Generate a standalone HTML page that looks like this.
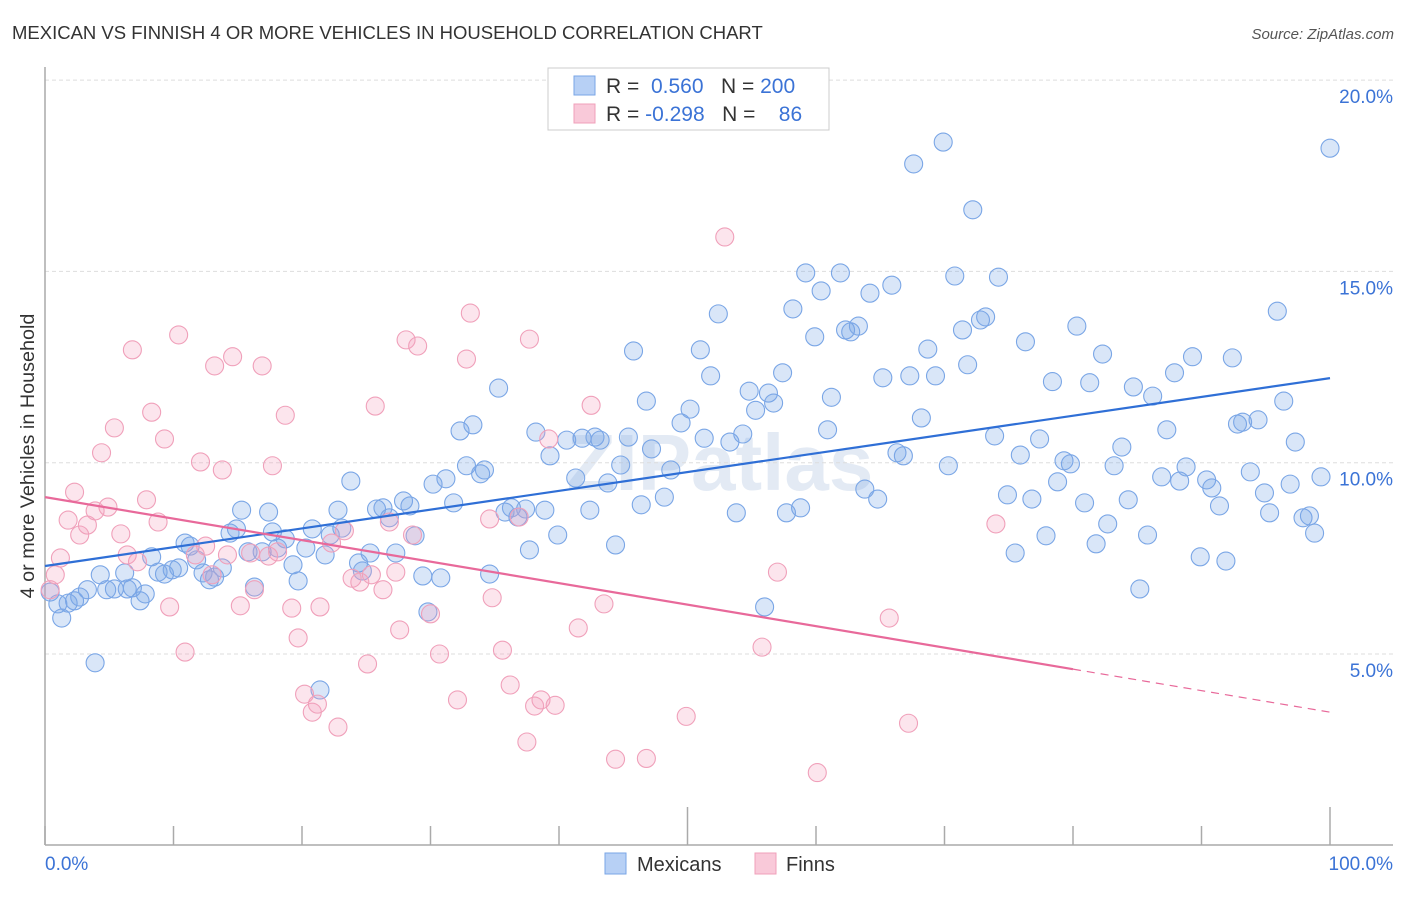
<!DOCTYPE html>
<html><head><meta charset="utf-8"><style>
body{margin:0;background:#fff;font-family:"Liberation Sans",sans-serif}
svg text{font-family:"Liberation Sans",sans-serif}
</style></head><body>
<svg id="chart" width="1406" height="892" xmlns="http://www.w3.org/2000/svg">
<text x="12" y="39" font-size="18.5" fill="#333">MEXICAN VS FINNISH 4 OR MORE VEHICLES IN HOUSEHOLD CORRELATION CHART</text>
<text x="1394" y="39" font-size="15" fill="#555" text-anchor="end" font-style="italic">Source: ZipAtlas.com</text>
<text x="720" y="490" font-size="80" fill="#dde6f2" text-anchor="middle" font-weight="bold" opacity="0.8">ZIPatlas</text>
<g id="grid"></g>
<g id="axes"></g>
<g id="pts"></g>
<g id="lines"></g>
<text transform="translate(34,456) rotate(-90)" font-size="19.8" fill="#333" text-anchor="middle">4 or more Vehicles in Household</text>
<g>
<rect x="548" y="68" width="281" height="62" fill="#fff" stroke="#ccc"/>
<rect x="574" y="76" width="21" height="19" fill="#b7d0f5" stroke="#7aa6e6"/>
<rect x="574" y="104" width="21" height="19" fill="#f9c9d9" stroke="#f0a0ba"/>
<text x="606" y="93" font-size="21" fill="#333">R = <tspan fill="#3b73d6">&#160;0.560</tspan>&#160;&#160; N = <tspan fill="#3b73d6">200</tspan></text>
<text x="606" y="121" font-size="21" fill="#333">R = <tspan fill="#3b73d6">-0.298</tspan>&#160;&#160; N = <tspan fill="#3b73d6">&#160;&#160;&#160;86</tspan></text>
</g>
<g>
<rect x="605" y="853" width="21" height="21" fill="#b7d0f5" stroke="#7aa6e6"/>
<text x="637" y="871" font-size="20" fill="#333">Mexicans</text>
<rect x="755" y="853" width="21" height="21" fill="#f9c9d9" stroke="#f0a0ba"/>
<text x="786" y="871" font-size="20" fill="#333">Finns</text>
</g>
</svg>
<script>
const blueX=[0.4,1.0,1.3,1.8,2.3,2.7,3.3,3.9,4.3,4.8,5.4,6.2,6.4,6.8,7.4,7.8,8.3,8.8,9.3,9.9,10.4,10.9,11.3,11.8,12.3,12.8,13.2,13.8,14.4,14.9,15.3,15.8,16.3,16.9,17.4,17.7,18.1,18.7,19.3,19.7,20.3,20.8,21.4,21.8,22.2,22.8,23.1,23.8,24.4,24.7,25.3,25.8,26.3,26.8,27.3,27.9,28.4,28.8,29.4,29.8,30.2,30.8,31.2,31.8,32.3,32.8,33.3,33.9,34.2,34.6,35.3,35.8,36.3,36.8,37.4,37.7,38.2,38.9,39.3,39.9,40.6,41.3,41.8,42.4,42.8,43.2,43.8,44.4,44.8,45.4,45.8,46.4,46.8,47.2,48.2,48.7,49.5,50.2,51.0,51.3,51.8,52.4,53.3,53.8,54.3,54.8,55.3,56.0,56.3,56.7,57.4,57.7,58.2,58.8,59.2,59.9,60.4,60.9,61.2,61.9,62.3,62.7,63.3,63.8,64.2,64.8,65.2,65.9,66.3,66.8,67.3,67.6,68.2,68.7,69.3,69.9,70.3,70.8,71.4,71.8,72.2,72.8,73.2,73.9,74.2,74.9,75.5,75.9,76.3,76.8,77.4,77.9,78.4,78.8,79.3,79.8,80.3,80.9,81.3,81.8,82.3,82.7,83.2,83.8,84.3,84.7,85.2,85.8,86.2,86.9,87.3,87.9,88.3,88.8,89.3,89.9,90.4,90.8,91.4,91.9,92.4,92.8,93.2,93.8,94.4,94.9,95.3,95.9,96.4,96.9,97.3,97.9,98.4,98.8,99.3,100];
const blueY=[6.62,6.31,5.94,6.33,6.39,6.49,6.68,4.77,7.07,6.68,6.70,7.12,6.70,6.73,6.39,6.57,7.54,7.14,7.09,7.20,7.25,7.90,7.82,7.46,7.12,6.94,7.01,7.25,8.16,8.27,8.76,7.67,6.75,7.67,8.71,8.19,7.77,8.01,7.33,6.91,7.77,8.27,4.06,7.59,8.11,8.76,8.29,9.52,7.38,7.17,7.64,8.79,8.82,8.56,7.64,9.00,8.87,8.09,7.04,6.10,9.44,6.99,9.58,8.95,10.83,9.92,10.99,9.71,9.81,7.09,11.95,8.71,8.82,8.58,8.79,7.72,10.80,8.76,10.18,8.11,10.59,9.60,10.64,8.76,10.67,10.59,9.47,7.85,9.94,10.67,12.92,8.90,11.61,10.36,9.10,9.81,11.04,11.40,12.95,10.64,12.27,13.89,10.54,8.69,10.75,11.87,11.37,6.23,11.82,11.56,12.35,8.69,14.02,8.82,14.96,13.29,14.49,10.86,11.71,14.96,13.47,13.42,13.57,9.31,14.43,9.05,12.22,14.64,10.26,10.18,12.27,17.81,11.17,12.97,12.27,18.38,9.92,14.88,13.47,12.56,16.61,13.73,13.81,10.70,14.85,9.16,7.64,10.20,13.16,9.05,10.62,8.09,12.12,9.50,10.05,9.97,13.57,8.95,12.09,7.88,12.84,8.40,9.92,10.41,9.03,11.98,6.70,8.11,11.74,9.63,10.86,12.35,9.52,9.89,12.77,7.54,9.55,9.34,8.87,7.43,12.74,11.01,11.06,9.76,11.12,9.21,8.69,13.96,11.61,9.44,10.54,8.56,8.61,8.16,9.63,18.22];
const pinkX=[0.4,0.8,1.2,1.8,2.3,2.7,3.3,3.9,4.4,4.9,5.4,5.9,6.4,6.8,7.2,7.9,8.3,8.8,9.3,9.7,10.4,10.9,11.7,12.1,12.5,13.0,13.2,13.8,14.2,14.6,15.2,16.0,16.3,16.9,17.4,17.7,18.1,18.7,19.2,19.7,20.2,20.8,21.2,21.4,22.3,22.8,23.3,23.9,24.5,25.1,25.4,25.7,26.3,26.8,27.3,27.6,28.1,28.6,29.0,30.0,30.7,32.1,32.8,33.1,34.6,34.8,35.6,36.2,36.9,37.5,37.7,38.1,38.6,39.2,39.7,41.5,42.5,43.5,44.4,46.8,49.9,52.9,55.8,57.0,60.1,65.7,67.2,74.0];
const pinkY=[6.68,7.07,7.51,8.50,9.23,8.11,8.37,8.74,10.26,8.84,10.91,8.14,7.59,12.95,7.41,9.03,11.32,8.45,10.62,6.23,13.34,5.05,7.59,10.02,7.82,7.07,12.53,9.81,7.59,12.77,6.26,7.64,6.68,12.53,7.56,9.92,7.67,11.24,6.20,5.42,3.95,3.48,3.69,6.23,7.90,3.09,8.22,6.98,6.88,4.74,7.07,11.48,6.68,8.45,7.14,5.63,13.21,8.11,13.05,6.05,5.00,3.80,12.71,13.91,8.53,6.47,5.10,4.19,8.58,2.70,13.23,3.64,3.80,10.62,3.66,5.68,11.50,6.31,2.25,2.27,3.37,15.90,5.18,7.14,1.90,5.94,3.19,8.40];
const yTicks=[5,10,15,20];
const yTickLabels=["5.0%","10.0%","15.0%","20.0%"];
const xTicks=[0,10,20,30,40,50,60,70,80,90,100];
const blueTrend=[7.30,12.21];
const pinkTrend=[9.10,3.48];
const pinkSolidEnd=80;

const NS="http://www.w3.org/2000/svg";
const X0=45,X1=1330,Y0=845.3,YS=38.26;
const sx=v=>X0+(X1-X0)*v/100;
const sy=v=>Y0-v*YS;
function mk(tag,attrs,parent){const e=document.createElementNS(NS,tag);for(const k in attrs)e.setAttribute(k,attrs[k]);parent.appendChild(e);return e;}
const grid=document.getElementById('grid'),axes=document.getElementById('axes'),pts=document.getElementById('pts'),lines=document.getElementById('lines');
yTicks.forEach((t,i)=>{
  const l=mk('line',{x1:X0,x2:1393,y1:sy(t),y2:sy(t),stroke:'#ddd','stroke-dasharray':'4,3'},grid);
  
  
  const tx=mk('text',{x:1393,y:sy(t)+23,'font-size':19,fill:'#3b73d6','text-anchor':'end'},grid);
  tx.textContent=yTickLabels[i];
  
  
});
const ya=mk('line',{x1:X0,x2:X0,y1:67,y2:845,stroke:'#aaa','stroke-width':1.5},axes);


const xa=mk('line',{x1:X0,x2:1393,y1:845,y2:845,stroke:'#aaa','stroke-width':1.5},axes);


xTicks.forEach(t=>{
  const tl=mk('line',{x1:sx(t),x2:sx(t),y1:(t===100||t===50)?807:826,y2:845,stroke:'#aaa','stroke-width':1.5},axes);
  
  
});
const xl0=mk('text',{x:45,y:870,'font-size':19,fill:'#3b73d6'},axes);xl0.textContent='0.0%';


const xl1=mk('text',{x:1393,y:870,'font-size':19,fill:'#3b73d6','text-anchor':'end'},axes);xl1.textContent='100.0%';


blueX.forEach((v,i)=>{
  const c=mk('circle',{cx:sx(v),cy:sy(blueY[i]),r:9,fill:'rgba(120,165,230,0.28)',stroke:'#7aa6e6','stroke-width':1.1},pts);
  
  
});
pinkX.forEach((v,i)=>{
  const c=mk('circle',{cx:sx(v),cy:sy(pinkY[i]),r:9,fill:'rgba(245,160,190,0.28)',stroke:'#f0a0ba','stroke-width':1.1},pts);
  
  
});
const bl=mk('line',{x1:sx(0),y1:sy(blueTrend[0]),x2:sx(100),y2:sy(blueTrend[1]),stroke:'#2f6fd6','stroke-width':2.2},lines);


const pe=pinkTrend[0]+(pinkTrend[1]-pinkTrend[0])*pinkSolidEnd/100;
const pl=mk('line',{x1:sx(0),y1:sy(pinkTrend[0]),x2:sx(pinkSolidEnd),y2:sy(pe),stroke:'#e8699a','stroke-width':2.2},lines);


const pd=mk('line',{x1:sx(pinkSolidEnd),y1:sy(pe),x2:sx(100),y2:sy(pinkTrend[1]),stroke:'#e8699a','stroke-width':1.2,'stroke-dasharray':'8,6'},lines);


</script>
</body></html>
